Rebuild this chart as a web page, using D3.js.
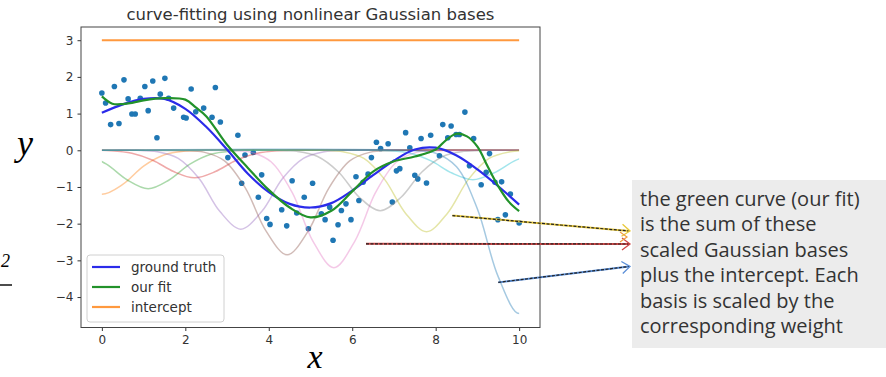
<!DOCTYPE html>
<html>
<head>
<meta charset="utf-8">
<script src="https://cdn.jsdelivr.net/npm/d3@7/dist/d3.min.js"></script>
<style>
  body { margin: 0; background: #fff; }
  svg { display: block; }
</style>
</head>
<body>
<div id="chart"></div>
<script>
// chart data
const chartTitle = "curve-fitting using nonlinear Gaussian bases";
const xTicks = [0, 2, 4, 6, 8, 10];
const yTicks = [-4, -3, -2, -1, 0, 1, 2, 3];
const intercept = 3;
const legendLabels = ["ground truth", "our fit", "intercept"];

const truthX = [0, 0.5, 1, 1.5, 2, 2.5, 3, 3.5, 4, 4.5, 5, 5.5, 6, 6.5, 7, 7.5, 8, 8.5, 9, 9.5, 10];
const truthY = [1.02, 1.25, 1.40, 1.40, 1.13, 0.64, 0.02, -0.64, -1.14, -1.46, -1.56, -1.44, -1.10, -0.68, -0.28, 0.02, 0.07, -0.14, -0.52, -0.98, -1.48];

const fitX = [0, 0.25, 0.5, 0.75, 1, 1.5, 2, 2.25, 2.5, 3, 3.5, 4, 4.5, 5, 5.5, 6, 6.5, 7, 7.5, 8, 8.25, 8.5, 8.75, 9, 9.25, 9.5, 9.75, 10];
const fitY = [1.47, 1.27, 1.26, 1.30, 1.36, 1.42, 1.38, 1.17, 0.93, 0.15, -0.48, -1.08, -1.56, -1.83, -1.65, -1.12, -0.58, -0.30, -0.17, 0.02, 0.28, 0.45, 0.38, 0.10, -0.45, -0.98, -1.40, -1.66];

const pointX = [0, 0.09, 0.3, 0.53, 0.21, 0.41, 0.63, 0.72, 0.8, 0.92, 1.03, 1.22, 1.11, 1.32, 1.51, 1.40, 1.6, 1.72, 1.96, 2.02,
  2.14, 2.25, 2.72, 2.44, 2.64, 2.84, 3.26, 3.02, 3.43, 3.63, 3.35, 3.83, 3.75, 3.95, 4.03, 4.31, 4.43, 4.56, 4.67, 4.85,
  4.95, 5.05, 5.26, 5.46, 5.35, 5.54, 5.66, 5.74, 5.85, 5.97, 6.09, 6.26, 6.16, 6.38, 6.46, 6.58, 6.86, 6.68, 6.96, 7.06,
  7.14, 7.28, 7.38, 7.5, 7.57, 7.65, 7.78, 7.88, 8.09, 8.17, 8.37, 8.7, 8.29, 8.49, 8.57, 8.91, 9.29, 8.81, 9.09, 9.21,
  9.42, 9.58, 9.79, 9.67, 9.49, 10.0];
const pointY = [1.56, 1.29, 1.74, 1.92, 0.70, 0.73, 1.40, 0.99, 0.99, 1.42, 1.74, 1.89, 1.08, 0.34, 1.96, 1.53, 1.42, 1.15, 0.90, 0.88,
  1.67, 1.05, 1.71, 1.15, 0.90, 0.77, 0.41, -0.20, -0.13, -0.06, -0.90, -0.67, -1.28, -1.86, -2.02, -1.62, -2.06, -0.83, -1.71, -1.28,
  -2.14, -0.90, -1.73, -1.55, -1.89, -2.45, -2.03, -1.64, -1.46, -1.89, -0.72, -0.87, -1.37, -0.65, -0.20, 0.22, 0.18, 0.05, -1.41, -0.56,
  -0.50, 0.48, 0.07, -0.68, -0.78, 0.32, -0.89, 0.41, -0.15, 0.70, 0.66, 1.04, 0.34, 0.43, 0.43, 0.32, -0.09, -0.42, -0.94, -0.60,
  -0.87, -0.86, -1.19, -1.76, -1.89, -1.98];

// scaled Gaussian bases: centre, and values at centre + offset
const basisCenters = [0, 1.11, 2.22, 3.33, 4.44, 5.56, 6.67, 7.78, 8.89, 10];
const basisOffsets = [-2.5, -2, -1.5, -1, -0.5, 0, 0.5, 1, 1.5, 2, 2.5];
const basisOrange = [0, -0.02, -0.12, -0.43, -0.93, -1.20, -0.93, -0.43, -0.12, -0.02, 0];
const basisGreen = [0, -0.02, -0.11, -0.38, -0.81, -1.05, -0.81, -0.38, -0.11, -0.02, 0];
const basisRed = [0, -0.01, -0.08, -0.27, -0.58, -0.75, -0.58, -0.27, -0.08, -0.01, 0];
const basisPurple = [0, -0.04, -0.22, -0.77, -1.67, -2.15, -1.67, -0.77, -0.22, -0.04, 0];
const basisBrown = [-0.01, -0.05, -0.29, -1.03, -2.21, -2.85, -2.21, -1.03, -0.29, -0.05, -0.01];
const basisPink = [-0.01, -0.05, -0.32, -1.15, -2.48, -3.20, -2.48, -1.15, -0.32, -0.05, -0.01];
const basisGray = [0, -0.03, -0.17, -0.59, -1.28, -1.65, -1.28, -0.59, -0.17, -0.03, 0];
const basisOlive = [0, -0.04, -0.22, -0.80, -1.72, -2.22, -1.72, -0.80, -0.22, -0.04, 0];
const basisCyan = [0, -0.01, -0.08, -0.29, -0.62, -0.80, -0.62, -0.29, -0.08, -0.01, 0];
const basisBlue = [-0.01, -0.08, -0.45, -1.60, -3.45, -4.45, -3.45, -1.60, -0.45, -0.08, -0.01];
const basisValues = [basisOrange, basisGreen, basisRed, basisPurple, basisBrown, basisPink, basisGray, basisOlive, basisCyan, basisBlue];
const basisColors = ["#ff7f0e", "#2ca02c", "#d62728", "#9467bd", "#8c564b", "#e377c2", "#7f7f7f", "#bcbd22", "#17becf", "#1f77b4"];

const noteLines = ["the green curve (our fit)", "is the sum of these", "scaled Gaussian bases",
  "plus the intercept. Each", "basis is scaled by the", "corresponding weight"];

const width = 886, height = 377;
const plot = { left: 81, right: 540, top: 27, bottom: 327.5 };

const svg = d3.select("#chart").append("svg")
  .attr("width", width)
  .attr("height", height)
  .style("font-family", "'DejaVu Sans', sans-serif");

const x = d3.scaleLinear().domain([-0.5, 10.5]).range([plot.left, plot.right]);
const y = d3.scaleLinear().domain([-4.83, 3.36]).range([plot.bottom, plot.top]);

svg.append("defs").append("clipPath").attr("id", "xclip")
  .append("rect")
  .attr("x", x(0)).attr("y", 0)
  .attr("width", x(10) - x(0)).attr("height", height);

// title
svg.append("text")
  .attr("x", (plot.left + plot.right) / 2)
  .attr("y", 20)
  .attr("text-anchor", "middle")
  .attr("font-size", 16.5)
  .attr("fill", "#333")
  .text(chartTitle);

// axes
const fmt = d => d3.format("")(d).replace("-", "\u2212");
svg.append("g")
  .attr("transform", "translate(0," + plot.bottom + ")")
  .call(d3.axisBottom(x).tickValues(xTicks).tickSize(3.5).tickSizeOuter(0).tickPadding(4).tickFormat(fmt))
  .call(g => g.select(".domain").remove())
  .call(g => g.selectAll("text").attr("font-size", 12).attr("fill", "#333").attr("font-family", "'DejaVu Sans', sans-serif"))
  .call(g => g.selectAll("line").attr("stroke", "#333"));

svg.append("g")
  .attr("transform", "translate(" + plot.left + ",0)")
  .call(d3.axisLeft(y).tickValues(yTicks).tickSize(3.5).tickSizeOuter(0).tickPadding(4).tickFormat(fmt))
  .call(g => g.select(".domain").remove())
  .call(g => g.selectAll("text").attr("font-size", 12).attr("fill", "#333").attr("font-family", "'DejaVu Sans', sans-serif"))
  .call(g => g.selectAll("line").attr("stroke", "#333"));

const plotGroup = svg.append("g");

// scatter
plotGroup.selectAll("circle.pt")
  .data(pointX.map((d, i) => [d, pointY[i]]))
  .enter().append("circle")
  .attr("class", "pt")
  .attr("cx", d => x(d[0]))
  .attr("cy", d => y(d[1]))
  .attr("r", 2.8)
  .attr("fill", "#1f77b4");

// bases
const basisLine = d3.line()
  .x(d => x(d[0]))
  .y(d => y(d[1]))
  .curve(d3.curveCatmullRom);

basisValues.forEach((vals, i) => {
  const c = basisCenters[i];
  let pts = basisOffsets.map((o, j) => [c + o, vals[j]]);
  if (pts[0][0] > 0) pts.unshift([0, 0]);
  if (pts[pts.length - 1][0] < 10) pts.push([10, 0]);
  plotGroup.append("path")
    .datum(pts)
    .attr("d", basisLine)
    .attr("fill", "none")
    .attr("stroke", basisColors[i])
    .attr("stroke-opacity", 0.4)
    .attr("stroke-width", 1.5)
    .attr("clip-path", "url(#xclip)");
});

const smoothLine = d3.line()
  .x(d => x(d[0]))
  .y(d => y(d[1]))
  .curve(d3.curveCatmullRom);

plotGroup.append("path")
  .datum(truthX.map((d, i) => [d, truthY[i]]))
  .attr("d", smoothLine)
  .attr("fill", "none")
  .attr("stroke", "#2b2bea")
  .attr("stroke-width", 2.2);

plotGroup.append("path")
  .datum(fitX.map((d, i) => [d, fitY[i]]))
  .attr("d", smoothLine)
  .attr("fill", "none")
  .attr("stroke", "#22922a")
  .attr("stroke-width", 2.2);

plotGroup.append("path")
  .datum([[0, intercept], [10, intercept]])
  .attr("d", smoothLine)
  .attr("fill", "none")
  .attr("stroke", "#ff7f0e")
  .attr("stroke-opacity", 0.8)
  .attr("stroke-width", 2);

// frame
svg.append("rect")
  .attr("x", plot.left).attr("y", plot.top)
  .attr("width", plot.right - plot.left)
  .attr("height", plot.bottom - plot.top)
  .attr("fill", "none")
  .attr("stroke", "#444")
  .attr("stroke-width", 1);

// legend
const legendColors = ["#2b2bea", "#22922a", "#ff7f0e"];
const legend = svg.append("g").attr("transform", "translate(87,255)");
legend.append("rect")
  .attr("width", 137).attr("height", 67)
  .attr("rx", 3)
  .attr("fill", "#fff").attr("fill-opacity", 0.8)
  .attr("stroke", "#d0d0d0");
legendLabels.forEach((lab, i) => {
  const ly = 12 + i * 20;
  legend.append("line")
    .attr("x1", 5).attr("x2", 33)
    .attr("y1", ly).attr("y2", ly)
    .attr("stroke", legendColors[i])
    .attr("stroke-opacity", i === 2 ? 0.8 : 1)
    .attr("stroke-width", 2.2);
  legend.append("text")
    .attr("x", 44).attr("y", ly + 5)
    .attr("font-size", 13.5)
    .attr("fill", "#333")
    .text(lab);
});

// math labels from the slide
svg.append("text")
  .attr("x", 25).attr("y", 155)
  .attr("text-anchor", "middle")
  .attr("font-family", "'Liberation Serif', serif")
  .attr("font-style", "italic")
  .attr("font-size", 36)
  .text("y");
svg.append("text")
  .attr("x", 315).attr("y", 368)
  .attr("text-anchor", "middle")
  .attr("font-family", "'Liberation Serif', serif")
  .attr("font-style", "italic")
  .attr("font-size", 34)
  .text("x");
svg.append("text")
  .attr("x", 1).attr("y", 267)
  .attr("font-family", "'Liberation Serif', serif")
  .attr("font-style", "italic")
  .attr("font-size", 18)
  .text("2");
svg.append("line")
  .attr("x1", 0).attr("x2", 12)
  .attr("y1", 285).attr("y2", 285)
  .attr("stroke", "#111").attr("stroke-width", 1.5);

// note box
const note = svg.append("g").attr("transform", "translate(632,180)");
note.append("rect")
  .attr("width", width - 632).attr("height", 168)
  .attr("fill", "#ececec");
noteLines.forEach((t, i) => {
  note.append("text")
    .attr("x", 8).attr("y", 26 + i * 25.4)
    .attr("font-family", "'Open Sans', sans-serif")
    .attr("font-size", 20)
    .attr("fill", "#333")
    .text(t);
});

// arrows from the bases to the note
const arrows = [
  { from: [8.4, -1.78], to: [629, 231], color: "#e8c93a" },
  { from: [6.33, -2.55], to: [629, 244], color: "#d04848" },
  { from: [9.5, -3.6], to: [629, 266.5], color: "#5b8fd8" }
];
arrows.forEach(a => {
  const x1 = x(a.from[0]), y1 = y(a.from[1]);
  const x2 = a.to[0], y2 = a.to[1];
  svg.append("line")
    .attr("x1", x1).attr("y1", y1).attr("x2", x2).attr("y2", y2)
    .attr("stroke", a.color).attr("stroke-width", 2);
  svg.append("line")
    .attr("x1", x1).attr("y1", y1).attr("x2", x2).attr("y2", y2)
    .attr("stroke", "#222").attr("stroke-width", 1.2)
    .attr("stroke-dasharray", "3,1.5");
  const ang = Math.atan2(y2 - y1, x2 - x1) * 180 / Math.PI;
  svg.append("path")
    .attr("d", "M-8,-6L0,0L-8,6")
    .attr("transform", "translate(" + (x2 + 1) + "," + y2 + ") rotate(" + ang + ")")
    .attr("fill", "none")
    .attr("stroke", a.color)
    .attr("stroke-width", 1.3);
});
// small orange chevron under the yellow one
svg.append("path")
  .attr("d", "M-7,-5L0,0L-7,5")
  .attr("transform", "translate(627,237)")
  .attr("fill", "none")
  .attr("stroke", "#f0a040")
  .attr("stroke-width", 1.2);
</script>
</body>
</html>
